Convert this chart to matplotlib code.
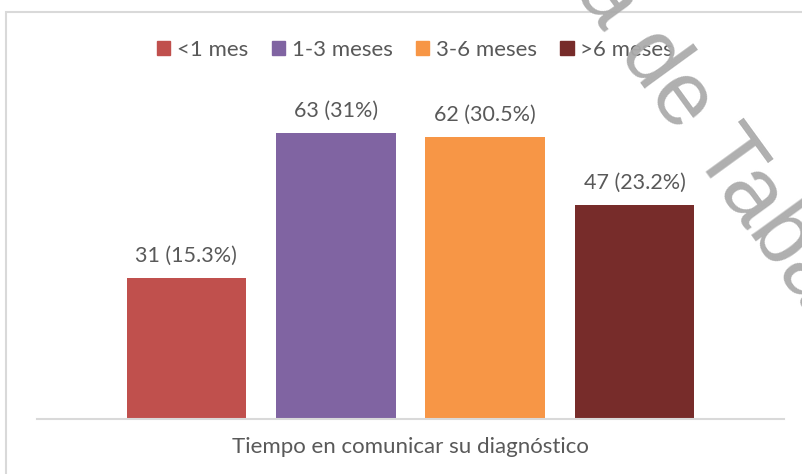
"""Bar chart: tiempo en comunicar su diagnóstico (Excel-style, single category)."""
import numpy as np, matplotlib
matplotlib.use("Agg")
import matplotlib.pyplot as plt
from matplotlib.patches import Patch, Rectangle

INK, GRID = "#595959", "#d9d9d9"
plt.rcParams["font.family"] = ["Lato", "DejaVu Sans"]

categorias = ["<1 mes", "1-3 meses", "3-6 meses", ">6 meses"]
valores = [31, 63, 62, 47]
porcentajes = [15.3, 31, 30.5, 23.2]
colores = ["#c0504d", "#8064a2", "#f79646", "#772c2a"]
xlabel = "Tiempo en comunicar su diagnóstico"

fig = plt.figure(figsize=(8.02, 4.74), dpi=100)
fig.patch.set_facecolor("white")
ax = fig.add_axes([37 / 802, 55 / 474, 747 / 802, 318 / 474])

x = np.arange(len(valores))
ax.bar(x, valores, width=0.8, color=colores, zorder=2)
for xi, v, p in zip(x, valores, porcentajes):
    ax.text(xi, v + 2.7, f"{v} ({p:g}%)", ha="center", va="bottom",
            fontsize=15.5, color=INK)

ax.set_xlim(-1, 4)
ax.set_ylim(0, 70)
ax.set_yticks([]); ax.set_xticks([])
for s in ("top", "right", "left"):
    ax.spines[s].set_visible(False)
ax.spines["bottom"].set_color(GRID); ax.spines["bottom"].set_linewidth(1.5)
ax.set_xlabel(xlabel, fontsize=16, color=INK, labelpad=13)

# chart frame (cut by the page edge on the right and bottom)
fig.patches.append(Rectangle((6 / 802, -0.1), 1.2, 1.1 - 12 / 474,
                             transform=fig.transFigure, fill=False,
                             edgecolor=GRID, lw=1.5))

handles = [Patch(color=c) for c in colores]
fig.legend(handles, categorias, loc="center", bbox_to_anchor=(415 / 802, 1 - 50 / 474),
           ncol=4, frameon=False, fontsize=16, labelcolor=INK,
           handlelength=0.6, handleheight=0.6, handletextpad=0.3,
           columnspacing=1.05)

# watermark
ang = -54
u = np.array([np.cos(np.radians(54)), np.sin(np.radians(54))])
start = np.array([618, 52])
wm = dict(fontsize=65, color="#ababab", rotation=ang, rotation_mode="anchor",
          va="baseline", family="Liberation Sans", alpha=0.95, zorder=10)
fig.text(start[0] / 802, 1 - start[1] / 474, "de Tabasco", ha="left", **wm)
back = start - u * 25
fig.text(back[0] / 802, 1 - back[1] / 474, "Juárez Autónoma", ha="right", **wm)

fig.savefig("out.png", dpi=100, facecolor="white")
